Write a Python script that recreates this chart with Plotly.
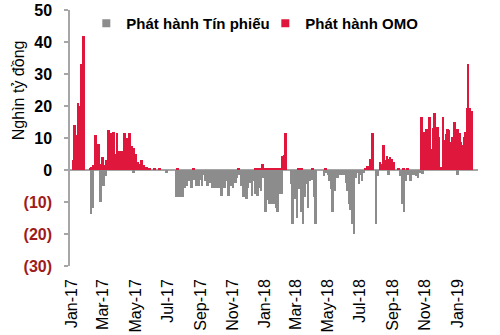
import pandas as pd
import plotly.graph_objects as go

# ---- data (Nghìn tỷ đồng) ----
omo_dates = [
    "2017-01-03", "2017-01-06", "2017-01-09", "2017-01-12", "2017-01-16", "2017-01-19", "2017-01-23",
    "2017-02-04", "2017-02-07", "2017-02-10", "2017-02-13", "2017-02-15", "2017-02-20", "2017-02-24",
    "2017-02-28", "2017-03-03", "2017-03-08", "2017-03-11", "2017-03-15", "2017-03-20", "2017-03-24",
    "2017-03-28", "2017-03-31", "2017-04-03", "2017-04-06", "2017-04-11", "2017-04-16", "2017-04-20",
    "2017-04-24", "2017-04-28", "2017-05-02", "2017-05-05", "2017-05-09", "2017-05-13", "2017-05-17",
    "2017-05-22", "2017-05-28", "2017-06-06", "2017-06-16", "2017-07-20", "2017-08-19", "2017-11-13",
    "2017-12-15", "2017-12-20", "2017-12-24", "2017-12-28", "2018-01-02", "2018-01-05", "2018-01-09",
    "2018-01-13", "2018-01-17", "2018-01-21", "2018-01-25", "2018-01-29", "2018-02-03", "2018-02-07",
    "2018-02-10", "2018-03-06", "2018-03-12", "2018-04-01", "2018-04-26", "2018-07-11", "2018-07-14",
    "2018-07-17", "2018-07-20", "2018-07-24", "2018-08-07", "2018-08-11", "2018-08-14", "2018-08-18",
    "2018-08-21", "2018-08-24", "2018-08-27", "2018-08-30", "2018-09-02", "2018-09-11", "2018-09-20",
    "2018-09-28", "2018-10-25", "2018-10-28", "2018-10-31", "2018-11-03", "2018-11-07", "2018-11-10",
    "2018-11-13", "2018-11-16", "2018-11-19", "2018-11-22", "2018-11-25", "2018-11-28", "2018-12-01",
    "2018-12-05", "2018-12-08", "2018-12-11", "2018-12-14", "2018-12-17", "2018-12-20", "2018-12-23",
    "2018-12-27", "2018-12-30", "2019-01-02", "2019-01-05", "2019-01-08", "2019-01-11", "2019-01-14",
    "2019-01-17", "2019-01-20", "2019-01-22", "2019-01-25", "2019-01-28",
]
omo_values = [
    3, 14, 11, 21, 20, 33, 42,
    0.5, 0.8, 1.5, 2, 11, 8, 2,
    4, 1.5, 3, 12.5, 11.5, 12, 5,
    11.7, 6, 6, 6, 11.7, 10, 11.7,
    7.6, 7, 5, 2.5, 2, 3, 1.5,
    1, 0.7, 0.5, 0.5, 0.5, 0.5, 0.5,
    0.5, 0.5, 0.5, 2, 0.5, 0.5, 0.5,
    0.5, 0.5, 0.5, 0.5, 0.5, 4.5, 4.7,
    11.7, 0.5, 0.5, 0.5, 0.5, 0.5, 1.3,
    1.3, 3.5, 11.7, 2.5, 2, 7.7, 3,
    4.5, 3.5, 4, 3.5, 2.5, 0.7, 0.5,
    0.5, 16.7, 11.7, 12, 12.7, 3.5, 16.7,
    6.5, 13, 17.7, 6, 13.3, 10.2, 0.8,
    16.7, 9.3, 11.3, 12.7, 12.5, 8.6, 10.2,
    15, 0.3, 12.7, 11.7, 8.6, 7.7, 10.2,
    12, 19.5, 33, 19.5, 18.5,
]

tp_dates = [
    "2017-02-06", "2017-02-09", "2017-02-23", "2017-02-28", "2017-03-02", "2017-03-05", "2017-04-28",
    "2017-06-29", "2017-07-17", "2017-07-21", "2017-07-25", "2017-07-29", "2017-08-02", "2017-08-06",
    "2017-08-10", "2017-08-15", "2017-08-19", "2017-08-24", "2017-08-28", "2017-09-01", "2017-09-05",
    "2017-09-08", "2017-09-10", "2017-09-14", "2017-09-20", "2017-09-24", "2017-09-28", "2017-10-03",
    "2017-10-07", "2017-10-11", "2017-10-15", "2017-10-18", "2017-10-20", "2017-10-24", "2017-10-29",
    "2017-11-02", "2017-11-06", "2017-11-10", "2017-11-13", "2017-11-17", "2017-11-21", "2017-11-27",
    "2017-12-01", "2017-12-04", "2017-12-08", "2017-12-12", "2017-12-15", "2017-12-18", "2017-12-22",
    "2017-12-25", "2017-12-29", "2018-01-02", "2018-01-06", "2018-01-10", "2018-01-14", "2018-01-18",
    "2018-01-23", "2018-01-26", "2018-01-29", "2018-02-01", "2018-02-20", "2018-02-23", "2018-02-28",
    "2018-03-03", "2018-03-07", "2018-03-11", "2018-03-15", "2018-03-18", "2018-03-21", "2018-03-24",
    "2018-03-27", "2018-03-30", "2018-04-02", "2018-04-05", "2018-04-08", "2018-04-24", "2018-04-27",
    "2018-05-01", "2018-05-04", "2018-05-07", "2018-05-10", "2018-05-13", "2018-05-18", "2018-05-25",
    "2018-05-29", "2018-06-02", "2018-06-04", "2018-06-07", "2018-06-10", "2018-06-13", "2018-06-16",
    "2018-06-20", "2018-06-23", "2018-06-26", "2018-06-29", "2018-07-02", "2018-07-05", "2018-07-08",
    "2018-07-31", "2018-08-03", "2018-08-24", "2018-09-15", "2018-09-18", "2018-09-22", "2018-09-25",
    "2018-09-29", "2018-10-04", "2018-10-08", "2018-10-11", "2018-10-13", "2018-10-16", "2018-10-19",
    "2018-10-21", "2018-10-26", "2019-01-01",
]
tp_values = [
    -13.6, -12, -10, -4, -5, -2, -1,
    -1, -8.5, -8.5, -8.5, -8.5, -5.5, -5,
    -3.5, -5.5, -3, -5, -5, -3, -5,
    -1.5, -3.3, -5, -4, -5.5, -5.5, -5.5,
    -5.5, -8, -5.5, -5.5, -3.5, -8, -5,
    -5.5, -4, -2.5, -1.5, -5, -8.5, -9,
    -5.5, -4, -8, -3.5, -7.5, -8, -5.5,
    -6.5, -2.5, -13, -9.5, -10.5, -10.5, -10.5,
    -12, -13, -7.5, -7.5, -4.5, -17, -9,
    -15, -6, -13, -17, -8.5, -4.5, -12,
    -3.5, -1.5, -3, -8.5, -17, -2, -1,
    -1.5, -3.5, -6, -13, -6.5, -2.5, -1.5,
    -1.5, -1.5, -4, -6.5, -10.5, -12.5, -17,
    -20, -2.5, -1, -4.5, -1.5, -3.5, -1,
    -17, -2, -1.5, -2, -10.5, -13, -3.5,
    -1.5, -3.5, -1.5, -1.5, -1, -2, -2.5,
    -0.8, -1.2, -1.5,
]

y_tick_values = [-30, -20, -10, 0, 10, 20, 30, 40, 50]
y_tick_labels = ["(30)", "(20)", "(10)", "0", "10", "20", "30", "40", "50"]
x_tick_dates = ["2017-01-01", "2017-03-01", "2017-05-01", "2017-07-01", "2017-09-01", "2017-11-01",
                "2018-01-01", "2018-03-01", "2018-05-01", "2018-07-01", "2018-09-01", "2018-11-01",
                "2019-01-01"]

RED = "#E0173D"
GREY = "#8C8C8C"
NEG_RED = "#9E1B1B"
AXIS = "#A6A6A6"
FONT = "Liberation Sans"
DAY_MS = 86400000


def bar_widths(dates, cap_days=4.5, overlap=1.25):
    d = pd.to_datetime(pd.Series(dates))
    gaps = (d.shift(-1) - d).dt.total_seconds() * 1000
    gaps = gaps.fillna(cap_days * DAY_MS).clip(upper=cap_days * DAY_MS)
    return (gaps * overlap).tolist()


fig = go.Figure()
fig.add_trace(go.Bar(x=tp_dates, y=tp_values, width=bar_widths(tp_dates), marker_color=GREY,
                     marker_line_width=0, showlegend=False, name="Phát hành Tín phiếu"))
fig.add_trace(go.Bar(x=omo_dates, y=omo_values, width=bar_widths(omo_dates), marker_color=RED,
                     marker_line_width=0, showlegend=False, name="Phát hành OMO"))
# legend entries with small square markers
fig.add_trace(go.Scatter(x=[None], y=[None], mode="markers", name="<b>Phát hành Tín phiếu</b>",
                         marker=dict(symbol="square", size=8, color=GREY)))
fig.add_trace(go.Scatter(x=[None], y=[None], mode="markers", name="<b>Phát hành OMO</b>",
                         marker=dict(symbol="square", size=8, color=RED)))

ticktext = []
for v, t in zip(y_tick_values, y_tick_labels):
    color = NEG_RED if v < 0 else "#000000"
    ticktext.append(f"<b><span style='color:{color}'>{t}</span></b>")

fig.update_layout(
    width=500, height=335,
    margin=dict(l=70, r=22, t=0, b=69, autoexpand=False),
    paper_bgcolor="white", plot_bgcolor="white",
    barmode="overlay", bargap=0,
    font=dict(family=FONT, color="black"),
    legend=dict(orientation="h", x=0.04, y=0.974, xanchor="left", yanchor="top",
                font=dict(size=15, family=FONT, color="black"), bgcolor="rgba(0,0,0,0)",
                itemwidth=30, entrywidth=134, entrywidthmode="pixels"),
    xaxis=dict(type="date", range=["2016-12-28", "2019-02-09"], automargin=False,
               tickvals=x_tick_dates, tickformat="%b-%y", tickangle=-90,
               showgrid=False, showline=False, zeroline=False, ticks="",
               tickfont=dict(size=16, family=FONT, color="black"), ticklabelstandoff=9),
    yaxis=dict(range=[-30, 50], domain=[0, 256 / 266], automargin=False,
               tickvals=y_tick_values, ticktext=ticktext,
               showgrid=False, showline=True, linecolor=AXIS, linewidth=1.5,
               ticks="outside", ticklen=4, tickcolor=AXIS, tickwidth=1.5,
               zeroline=True, zerolinecolor=AXIS, zerolinewidth=1.5,
               tickfont=dict(size=16, family=FONT, color="black"), ticklabelstandoff=9),
    annotations=[dict(text="Nghìn tỷ đồng", xref="paper", yref="y", x=-0.127, y=25,
                      xanchor="center", yanchor="middle", textangle=-90, showarrow=False,
                      font=dict(size=16, family=FONT, color="black"))],
)

fig.write_html("out.html")
